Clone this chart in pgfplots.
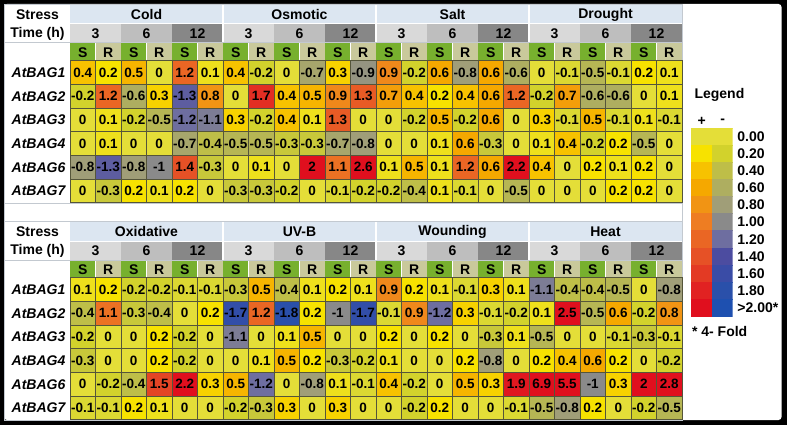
\documentclass[border=0pt]{standalone}
\usepackage{pgfplots}
\pgfplotsset{compat=1.18}
\usepackage{fontspec}
\setmainfont{Liberation Sans}
\definecolor{stressbg}{HTML}{DCE6F1}
\definecolor{tthree}{HTML}{D9D9D9}
\definecolor{tsix}{HTML}{BEBEBE}
\definecolor{ttwelve}{HTML}{878787}
\definecolor{sgreen}{HTML}{77B02E}
\definecolor{rkhaki}{HTML}{C9C99B}
\definecolor{gridc}{HTML}{55553A}
\definecolor{framec}{HTML}{C3C9D0}
\newcommand\hf{\bfseries\fontsize{14}{16}\selectfont}
\newcommand\nf{\bfseries\fontsize{13.5}{15}\selectfont}
\pgfplotsset{
 colormap={bag}{rgb255=(30,80,176) rgb255=(42,80,170) rgb255=(58,76,166) rgb255=(76,76,160) rgb255=(110,110,160) rgb255=(138,138,138) rgb255=(160,158,120) rgb255=(174,174,96) rgb255=(190,190,72) rgb255=(210,210,44) rgb255=(228,222,56) rgb255=(247,226,0) rgb255=(247,194,0) rgb255=(245,168,0) rgb255=(241,148,20) rgb255=(238,125,34) rgb255=(234,102,36) rgb255=(230,81,38) rgb255=(227,58,36) rgb255=(225,34,34) rgb255=(224,15,30)},
 bagheat/.style={anchor=north west, scale only axis, width=612pt, height=142pt,
   xmin=-0.5, xmax=23.5, ymin=-0.5, ymax=5.5, y dir=reverse,
   colormap name=bag, point meta min=-2, point meta max=2, axis on top,
   xtick={0.5,1.5,...,22.5}, ytick={0.5,1.5,...,4.5}, xticklabels={}, yticklabels={},
   major tick length=0pt, grid=major, grid style={gridc, line width=0.7pt},
   axis line style={gridc, line width=0.7pt}},
 bagcells/.style={matrix plot*, mesh/cols=24, point meta=explicit,
   nodes near coords={\pgfmathprintnumber[fixed,precision=1,assume math mode=true]{\pgfplotspointmeta}},
   nodes near coords align={center},
   every node near coord/.append style={anchor=center, font=\nf, text=black, inner sep=0pt}},
}
\newcommand\tablehead[5]{%
 \fill[stressbg] (70,#1+5) rectangle (682,#1+24);
 \foreach \g in {0,1,2,3} {
   \fill[tthree] ({70+153*\g},#1+24) rectangle ({70+153*\g+51},#1+42.5);
   \fill[tsix] ({70+153*\g+51},#1+24) rectangle ({70+153*\g+102},#1+42.5);
   \fill[ttwelve] ({70+153*\g+102},#1+24) rectangle ({70+153*\g+153},#1+42.5);
   \node[font=\hf] at ({70+153*\g+25.5},#1+33.5) {3};
   \node[font=\hf] at ({70+153*\g+76.5},#1+33.5) {6};
   \node[font=\hf] at ({70+153*\g+127.5},#1+33.5) {12};
 }
 \foreach \c in {0,...,11} {
   \fill[sgreen] ({70+51*\c},#1+43.5) rectangle ({70+51*\c+25.5},#1+60.7);
   \fill[rkhaki] ({70+51*\c+25.5},#1+43.5) rectangle ({70+51*\c+51},#1+60.7);
   \node[font=\hf] at ({70+51*\c+12.75},#1+52.3) {S};
   \node[font=\hf] at ({70+51*\c+38.25},#1+52.3) {R};
   \draw[white, line width=0.6pt] ({70+51*\c+25.5},#1+43.5) -- ({70+51*\c+25.5},#1+60.7);
 }
 \foreach \g in {1,2,3} {\draw[white, line width=1.4pt] ({70+153*\g},#1+5) -- ({70+153*\g},#1+42.5);}
 \draw[white, line width=1pt] (70,#1+24) -- (682,#1+24);
 \draw[framec, line width=1pt] (4.5,#1+43) -- (682.5,#1+43);
 \node[font=\hf] at (37.5,#1+14.8) {Stress};
 \node[font=\hf] at (37.5,#1+33.5) {Time (h)};
 \node[font=\hf] at (146.5,#1+14.8) {#2};
 \node[font=\hf] at (299.5,#1+14.8) {#3};
 \node[font=\hf] at (452.5,#1+14.8) {#4};
 \node[font=\hf] at (605.5,#1+14.8) {#5};
 \foreach \i/\n in {0/1,1/2,2/3,3/4,4/6,5/7} {
   \node[font=\hf\itshape] at (38.5,{#1+60.7+23.67*(\i+0.5)}) {AtBAG\n};
 }
}
\begin{document}
\begin{tikzpicture}
\begin{scope}[x=1pt,y=-1pt]
 \fill[black] (0,0) rectangle (787,425);
 \fill[white, rounded corners=3pt] (4,4) rectangle (781.5,420);
 \draw[framec, line width=1pt] (4.5,4.5) rectangle (682.5,420);
 \draw[framec, line width=1pt] (4.5,203) -- (682.5,203);
 \draw[framec, line width=1pt] (4.5,221.5) -- (682.5,221.5);
 \tablehead{0}{Cold}{Osmotic}{Salt}{Drought}
 \tablehead{217}{Oxidative}{UV-B}{Wounding}{Heat}
 \node[font=\hf, anchor=west] at (691,95) {Legend};
 \node[font=\hf] at (701.7,121) {+};
 \node[font=\hf] at (722.7,121) {-};
 \node[font=\hf, anchor=west] at (688.5,331.7) {* 4- Fold};
\end{scope}

\begin{axis}[at={(691pt,-128.3pt)}, anchor=north west, scale only axis, width=41.7pt, height=187.7pt,
  xmin=-0.5, xmax=1.5, ymin=-0.5, ymax=10.5, y dir=reverse,
  colormap name=bag, point meta min=-2, point meta max=2,
  axis line style={draw=none}, major tick length=0pt, xtick=\empty,
  ytick={0,1,...,10},
  yticklabels={0.00,0.20,0.40,0.60,0.80,1.00,1.20,1.40,1.60,1.80,>2.00*},
  yticklabel pos=right,
  yticklabel style={anchor=west, font=\hf, inner sep=0pt, xshift=4.5pt}]
\addplot[matrix plot*, mesh/cols=2, point meta=explicit, nodes near coords={}] coordinates {
(0,0)[0] (1,0)[0]
(0,1)[0.2] (1,1)[-0.2]
(0,2)[0.4] (1,2)[-0.4]
(0,3)[0.6] (1,3)[-0.6]
(0,4)[0.8] (1,4)[-0.8]
(0,5)[1.0] (1,5)[-1.0]
(0,6)[1.2] (1,6)[-1.2]
(0,7)[1.4] (1,7)[-1.4]
(0,8)[1.6] (1,8)[-1.6]
(0,9)[1.8] (1,9)[-1.8]
(0,10)[2.0] (1,10)[-2.0]
};
\end{axis}

\begin{axis}[bagheat, at={(70pt,-60.7pt)}]
\addplot[bagcells] coordinates {
(0,0)[0.4] (1,0)[0.2] (2,0)[0.5] (3,0)[0] (4,0)[1.2] (5,0)[0.1] (6,0)[0.4] (7,0)[-0.2] (8,0)[0] (9,0)[-0.7] (10,0)[0.3] (11,0)[-0.9] (12,0)[0.9] (13,0)[-0.2] (14,0)[0.6] (15,0)[-0.8] (16,0)[0.6] (17,0)[-0.6] (18,0)[0] (19,0)[-0.1] (20,0)[-0.5] (21,0)[-0.1] (22,0)[0.2] (23,0)[0.1]
(0,1)[-0.2] (1,1)[1.2] (2,1)[-0.6] (3,1)[0.3] (4,1)[-1.3] (5,1)[0.8] (6,1)[0] (7,1)[1.7] (8,1)[0.4] (9,1)[0.5] (10,1)[0.9] (11,1)[1.3] (12,1)[0.7] (13,1)[0.4] (14,1)[0.2] (15,1)[0.4] (16,1)[0.6] (17,1)[1.2] (18,1)[-0.2] (19,1)[0.7] (20,1)[-0.6] (21,1)[-0.6] (22,1)[0] (23,1)[0.1]
(0,2)[0] (1,2)[0.1] (2,2)[-0.2] (3,2)[-0.5] (4,2)[-1.2] (5,2)[-1.1] (6,2)[0.3] (7,2)[-0.2] (8,2)[0.4] (9,2)[0.1] (10,2)[1.3] (11,2)[0] (12,2)[0] (13,2)[-0.2] (14,2)[0.5] (15,2)[-0.2] (16,2)[0.6] (17,2)[0] (18,2)[0.3] (19,2)[-0.1] (20,2)[0.5] (21,2)[-0.1] (22,2)[0.1] (23,2)[-0.1]
(0,3)[0] (1,3)[0.1] (2,3)[0] (3,3)[0] (4,3)[-0.7] (5,3)[-0.4] (6,3)[-0.5] (7,3)[-0.5] (8,3)[-0.3] (9,3)[-0.3] (10,3)[-0.7] (11,3)[-0.8] (12,3)[0] (13,3)[0] (14,3)[0.1] (15,3)[0.6] (16,3)[-0.3] (17,3)[0] (18,3)[0.1] (19,3)[0.4] (20,3)[-0.2] (21,3)[0.2] (22,3)[-0.5] (23,3)[0]
(0,4)[-0.8] (1,4)[-1.3] (2,4)[-0.8] (3,4)[-1] (4,4)[1.4] (5,4)[-0.3] (6,4)[0] (7,4)[0.1] (8,4)[0] (9,4)[2] (10,4)[1.1] (11,4)[2.6] (12,4)[0.1] (13,4)[0.5] (14,4)[0.1] (15,4)[1.2] (16,4)[0.6] (17,4)[2.2] (18,4)[0.4] (19,4)[0] (20,4)[0.2] (21,4)[0.1] (22,4)[0.2] (23,4)[0]
(0,5)[0] (1,5)[-0.3] (2,5)[0.2] (3,5)[0.1] (4,5)[0.2] (5,5)[0] (6,5)[-0.3] (7,5)[-0.3] (8,5)[-0.2] (9,5)[0] (10,5)[-0.1] (11,5)[-0.2] (12,5)[-0.2] (13,5)[-0.4] (14,5)[0.1] (15,5)[-0.1] (16,5)[0] (17,5)[-0.5] (18,5)[0] (19,5)[0] (20,5)[0] (21,5)[0.2] (22,5)[0.2] (23,5)[0]
};
\end{axis}

\begin{axis}[bagheat, at={(70pt,-277.7pt)}]
\addplot[bagcells] coordinates {
(0,0)[0.1] (1,0)[0.2] (2,0)[-0.2] (3,0)[-0.2] (4,0)[-0.1] (5,0)[-0.1] (6,0)[-0.3] (7,0)[0.5] (8,0)[-0.4] (9,0)[0.1] (10,0)[0.2] (11,0)[0.1] (12,0)[0.9] (13,0)[0.2] (14,0)[0.1] (15,0)[-0.1] (16,0)[0.3] (17,0)[0.1] (18,0)[-1.1] (19,0)[-0.4] (20,0)[-0.4] (21,0)[-0.5] (22,0)[0] (23,0)[-0.8]
(0,1)[-0.4] (1,1)[1.1] (2,1)[-0.3] (3,1)[-0.4] (4,1)[0] (5,1)[0.2] (6,1)[-1.7] (7,1)[1.2] (8,1)[-1.8] (9,1)[0.2] (10,1)[-1] (11,1)[-1.7] (12,1)[-0.1] (13,1)[0.9] (14,1)[-1.2] (15,1)[0.3] (16,1)[-0.1] (17,1)[-0.2] (18,1)[0.1] (19,1)[2.5] (20,1)[-0.5] (21,1)[0.6] (22,1)[-0.2] (23,1)[0.8]
(0,2)[-0.2] (1,2)[0] (2,2)[0] (3,2)[0.2] (4,2)[-0.2] (5,2)[0] (6,2)[-1.1] (7,2)[0] (8,2)[0.1] (9,2)[0.5] (10,2)[0] (11,2)[0] (12,2)[0.2] (13,2)[0] (14,2)[0.2] (15,2)[0] (16,2)[-0.3] (17,2)[0.1] (18,2)[-0.5] (19,2)[0] (20,2)[0] (21,2)[-0.1] (22,2)[-0.3] (23,2)[-0.1]
(0,3)[-0.3] (1,3)[0] (2,3)[0] (3,3)[0.2] (4,3)[-0.2] (5,3)[0] (6,3)[0] (7,3)[0.1] (8,3)[0.5] (9,3)[0.2] (10,3)[-0.3] (11,3)[-0.2] (12,3)[0.1] (13,3)[0] (14,3)[0] (15,3)[0.2] (16,3)[-0.8] (17,3)[0] (18,3)[0.2] (19,3)[0.4] (20,3)[0.6] (21,3)[0.2] (22,3)[0] (23,3)[-0.2]
(0,4)[0] (1,4)[-0.2] (2,4)[-0.4] (3,4)[1.5] (4,4)[2.2] (5,4)[0.3] (6,4)[0.5] (7,4)[-1.2] (8,4)[0] (9,4)[-0.8] (10,4)[0.1] (11,4)[-0.1] (12,4)[0.4] (13,4)[-0.2] (14,4)[0] (15,4)[0.5] (16,4)[0.3] (17,4)[1.9] (18,4)[6.9] (19,4)[5.5] (20,4)[-1] (21,4)[0.3] (22,4)[2] (23,4)[2.8]
(0,5)[-0.1] (1,5)[-0.1] (2,5)[0.2] (3,5)[0.1] (4,5)[0] (5,5)[0] (6,5)[-0.2] (7,5)[-0.3] (8,5)[0.3] (9,5)[0] (10,5)[0.3] (11,5)[0] (12,5)[0] (13,5)[-0.2] (14,5)[0.2] (15,5)[0] (16,5)[0] (17,5)[-0.1] (18,5)[-0.5] (19,5)[-0.8] (20,5)[0.2] (21,5)[0] (22,5)[-0.2] (23,5)[-0.5]
};
\end{axis}
\end{tikzpicture}
\end{document}
